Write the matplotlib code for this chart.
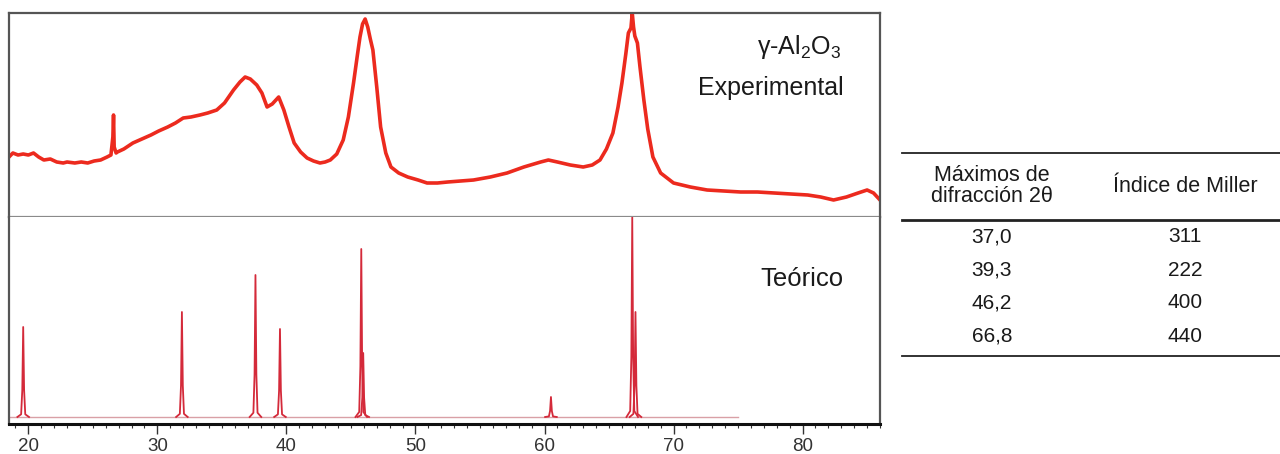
import numpy as np
import matplotlib.pyplot as plt
from matplotlib.lines import Line2D
from matplotlib.ticker import MultipleLocator

plt.rcParams['font.family'] = ['Liberation Sans', 'DejaVu Sans']
plt.rcParams['mathtext.fontset'] = 'custom'
plt.rcParams['mathtext.rm'] = 'Liberation Sans'
plt.rcParams['mathtext.it'] = 'Liberation Sans:italic'

# experimental pattern (2theta, intensity in arbitrary units)
exp_2theta = [18.5, 18.8, 19.2, 19.6, 20.0, 20.4, 20.8, 21.2, 21.7, 22.2, 22.7, 23.0, 23.6,
              24.1, 24.6, 25.1, 25.6, 26.1, 26.4, 26.55, 26.6, 26.65, 26.8, 26.9, 27.4, 28.1,
              28.8, 29.5, 30.1, 30.8, 31.4, 32.0, 32.6, 33.3, 33.9, 34.6, 35.2, 35.9, 36.4,
              36.8, 37.2, 37.7, 38.1, 38.5, 38.9, 39.4, 39.8, 40.2, 40.6, 41.1, 41.6, 42.1,
              42.6, 43.0, 43.4, 43.9, 44.4, 44.8, 45.2, 45.5, 45.7, 45.9, 46.1, 46.3, 46.5,
              46.7, 47.0, 47.3, 47.7, 48.1, 48.7, 49.4, 50.2, 50.9, 51.7, 52.5, 53.5, 54.5,
              55.8, 57.1, 58.4, 59.7, 60.3, 61.0, 62.0, 63.0, 63.7, 64.3, 64.8, 65.3, 65.7,
              66.0, 66.3, 66.5, 66.7, 66.8, 66.9, 67.0, 67.2, 67.4, 67.7, 68.0, 68.4, 69.0,
              70.0, 71.3, 72.6, 73.9, 75.2, 76.5, 77.8, 79.1, 80.4, 81.4, 82.4, 83.4, 84.3,
              85.0, 85.5, 86.0]
exp_intensity = [60, 64, 62, 63, 62, 64, 60, 57, 58, 55, 54, 55, 54,
                 55, 54, 56, 57, 60, 62, 80, 102, 70, 64, 65, 68, 74,
                 78, 82, 86, 90, 94, 99, 100, 102, 104, 107, 114, 127, 135,
                 140, 138, 132, 124, 110, 113, 120, 107, 90, 74, 65, 59, 56,
                 54, 55, 57, 63, 77, 100, 134, 162, 180, 193, 198, 190, 178,
                 167, 130, 90, 64, 50, 44, 40, 37, 34, 34, 35, 36, 37,
                 40, 44, 50, 55, 57, 55, 52, 50, 52, 57, 68, 84, 110,
                 134, 163, 184, 189, 204, 190, 181, 174, 150, 117, 88, 60, 44,
                 34, 30, 27, 26, 25, 25, 24, 23, 22, 20, 17, 20, 24,
                 27, 24, 17]

# calculated pattern: reflection positions and relative heights
theo_2theta = [19.6, 31.9, 37.6, 39.5, 45.8, 45.95, 60.5, 66.8, 67.05]
theo_height = [90, 105, 142, 88, 168, 64, 20, 200, 105]
theo_range = (18.5, 75.0)

# peak positions and Miller indices
table_2theta = [37.0, 39.3, 46.2, 66.8]
table_hkl = ['311', '222', '400', '440']

fig = plt.figure(figsize=(12.8, 4.54), dpi=100)
ax_left, ax_width = 9 / 1280, 871 / 1280
axtop = fig.add_axes([ax_left, 1 - 217 / 454, ax_width, 204 / 454])
axbot = fig.add_axes([ax_left, 1 - 424 / 454, ax_width, 207 / 454], sharex=axtop)

xlim = (18.5, 86.0)

axtop.plot(exp_2theta, exp_intensity, color='#ec2a1e', lw=2.6, solid_joinstyle='round')
axtop.set_xlim(*xlim)
axtop.set_ylim(0, 204)
axtop.text(0.955, 0.835, 'γ-Al$_2$O$_3$', transform=axtop.transAxes,
           ha='right', va='center', fontsize=18, color='#1a1a1a')
axtop.text(0.958, 0.63, 'Experimental', transform=axtop.transAxes,
           ha='right', va='center', fontsize=18, color='#1a1a1a')

# calculated pattern: baseline plus one narrow profile per reflection
offsets = np.array([-0.45, -0.16, -0.07, 0.0, 0.07, 0.16, 0.45])
shape = np.array([0.0, 0.03, 0.3, 1.0, 0.3, 0.03, 0.0])
axbot.plot(theo_range, [0, 0], color='#d9a0a6', lw=1.0)
for pos, h in zip(theo_2theta, theo_height):
    axbot.plot(pos + offsets, h * shape, color='#d42a3a', lw=1.3)
axbot.set_ylim(-7, 200)
axbot.text(0.958, 0.7, 'Teórico', transform=axbot.transAxes,
           ha='right', va='center', fontsize=18.5, color='#1a1a1a')

for ax in (axtop, axbot):
    ax.set_yticks([])
    for side in ('left', 'right', 'top'):
        ax.spines[side].set_color('#555555')
        ax.spines[side].set_linewidth(1.6)
axtop.spines['bottom'].set_color('#8a8a8a')
axtop.spines['bottom'].set_linewidth(1.6)
axbot.spines['top'].set_visible(False)
axbot.spines['bottom'].set_color('#111111')
axbot.spines['bottom'].set_linewidth(2.2)

axtop.tick_params(axis='x', which='both', bottom=False, labelbottom=False)
axbot.xaxis.set_major_locator(MultipleLocator(10))
axbot.xaxis.set_minor_locator(MultipleLocator(1))
axbot.tick_params(axis='x', which='major', direction='out', length=7, width=1,
                  labelsize=13.5, colors='#333333', pad=3)
axbot.tick_params(axis='x', which='minor', direction='out', length=3, width=0.8,
                  colors='#333333')

# table of diffraction maxima
def hline(y, lw):
    fig.add_artist(Line2D([902 / 1280, 1.0], [1 - y / 454] * 2,
                          color='#222222', lw=lw, transform=fig.transFigure))

hline(153, 1.3)
hline(220, 2.0)
hline(356, 1.3)

col1, col2 = 992 / 1280, 1185 / 1280
fig.text(col1, 1 - 186 / 454, 'Máximos de\ndifracción 2θ', ha='center', va='center',
         fontsize=15.5, linespacing=0.95, color='#1a1a1a')
fig.text(col2, 1 - 186 / 454, 'Índice de Miller', ha='center', va='center',
         fontsize=15.5, color='#1a1a1a')
row_y = [237, 270, 303, 336]
for y, tt, hkl in zip(row_y, table_2theta, table_hkl):
    fig.text(col1, 1 - y / 454, f'{tt:.1f}'.replace('.', ','), ha='center', va='center',
             fontsize=15, color='#1a1a1a')
    fig.text(col2, 1 - y / 454, hkl, ha='center', va='center',
             fontsize=15, color='#1a1a1a')

fig.savefig('out.png', dpi=100)
